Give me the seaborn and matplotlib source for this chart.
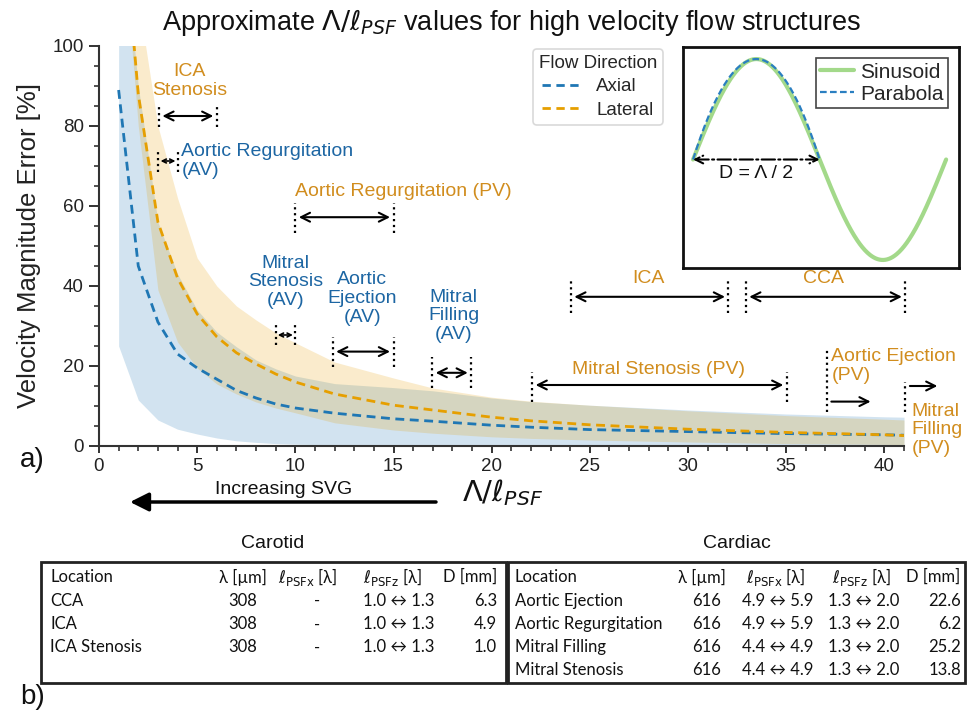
import numpy as np
import pandas as pd
import matplotlib
matplotlib.use("Agg")
import matplotlib.pyplot as plt
import seaborn as sns
from matplotlib.patches import Rectangle
from matplotlib.lines import Line2D

# ---------------- data ----------------
lam_ratio = [1, 2, 3, 4, 5, 6, 7, 8, 9, 10, 12, 15, 17, 20, 22, 25, 30, 35, 40, 41]
axial_mean = [89, 45, 31, 23, 19.5, 16.7, 13.9, 12.0, 10.5, 9.5, 8.2, 6.8, 6.2, 5.2, 4.7, 4.1, 3.6, 3.1, 2.8, 2.7]
axial_low = [25, 11.5, 6.5, 4.2, 3.0, 2.0, 1.3, 0.9, 0.6, 0.45, 0.3, 0.15, 0.1, 0.05, 0.05, 0.05, 0.05, 0.05, 0.05, 0.05]
axial_high = [140, 90, 56, 43, 34, 28.5, 24.8, 21.5, 19.3, 17.5, 15.6, 14.6, 13.8, 12.0, 11.1, 10.2, 9.0, 8.0, 7.3, 7.2]
lateral_mean = [145, 88, 56, 42, 33, 27.3, 23.3, 20.5, 18, 16, 13, 10.2, 9, 7.2, 6.3, 5.3, 4.2, 3.4, 2.8, 2.6]
lateral_low = [140, 80, 39, 26, 19.5, 15.5, 13, 11, 9.5, 8.3, 5.8, 4.0, 3.2, 2.3, 1.9, 1.5, 1.0, 0.6, 0.4, 0.35]
lateral_high = [170, 112, 80, 62, 47, 40, 35, 31.5, 28.3, 25.8, 21, 17, 14.5, 12.2, 11.2, 10.2, 8.8, 7.6, 6.7, 6.5]

# flow structures: name, colour key, (x1, x2) range
struct_names = ["ICA\nStenosis", "Aortic Regurgitation\n(AV)", "Aortic Regurgitation (PV)",
                "Mitral\nStenosis\n(AV)", "Aortic\nEjection\n(AV)", "Mitral\nFilling\n(AV)",
                "ICA", "CCA", "Mitral Stenosis (PV)"]
struct_kind = ["PV", "AV", "PV", "AV", "AV", "AV", "PV", "PV", "PV"]
struct_range = [(3.05, 6.0), (3.03, 4.0), (10.0, 15.0), (9.0, 9.98), (11.9, 15.0),
                (16.97, 18.96), (24.03, 32.06), (32.94, 41.07), (22.06, 35.03)]
open_names = ["Aortic Ejection\n(PV)", "Mitral\nFilling\n(PV)"]
open_start = [37.07, 41.04]

# tables
carotid_locations = ["CCA", "ICA", "ICA Stenosis"]
carotid_lambda = ["308", "308", "308"]
carotid_psfx = ["-", "-", "-"]
carotid_psfz = ["1.0 \u2194 1.3", "1.0 \u2194 1.3", "1.0 \u2194 1.3"]
carotid_D = ["6.3", "4.9", "1.0"]
cardiac_locations = ["Aortic Ejection", "Aortic Regurgitation", "Mitral Filling", "Mitral Stenosis"]
cardiac_lambda = ["616", "616", "616", "616"]
cardiac_psfx = ["4.9 \u2194 5.9", "4.9 \u2194 5.9", "4.4 \u2194 4.9", "4.4 \u2194 4.9"]
cardiac_psfz = ["1.3 \u2194 2.0", "1.3 \u2194 2.0", "1.3 \u2194 2.0", "1.3 \u2194 2.0"]
cardiac_D = ["22.6", "6.2", "25.2", "13.8"]

# ---------------- style ----------------
sns.set_style("ticks")
plt.rcParams["font.family"] = ["Liberation Sans", "DejaVu Sans"]
plt.rcParams["mathtext.fontset"] = "dejavusans"

BLUE = "#1f77b4"
ORANGE = "#E69F00"
TBLUE = "#1d66a3"
TORANGE = "#d18d1e"
W, H = 967, 712

fig = plt.figure(figsize=(W / 100, H / 100), dpi=100)


def fx(px):
    return px / W


def fy(py):
    return 1 - py / H


ax = fig.add_axes([fx(99), fy(446), 805 / W, 400 / H])

n = len(lam_ratio)
df = pd.DataFrame({"x": lam_ratio * 2,
                   "err": axial_mean + lateral_mean,
                   "Direction": ["Axial"] * n + ["Lateral"] * n})
ax.fill_between(lam_ratio, axial_low, axial_high, color=BLUE, alpha=0.2, lw=0, zorder=1)
ax.fill_between(lam_ratio, lateral_low, lateral_high, color=ORANGE, alpha=0.2, lw=0, zorder=1)
sns.lineplot(data=df, x="x", y="err", hue="Direction",
             palette={"Axial": BLUE, "Lateral": ORANGE}, errorbar=None,
             linewidth=2, linestyle=(0, (3.2, 2)), ax=ax, legend=False, zorder=3)

ax.set_xlim(0, 41)
ax.set_ylim(0, 100)
ax.set_xticks(range(0, 41, 5))
ax.set_xticks(range(0, 42, 1), minor=True)
ax.set_yticks(range(0, 101, 20))
ax.set_yticks(range(0, 101, 5), minor=True)
ax.set_xlabel("")
ax.set_ylabel("Velocity Magnitude Error [%]", fontsize=18.5, labelpad=8, color="#222")
sns.despine(ax=ax)
for s in ["left", "bottom"]:
    ax.spines[s].set_linewidth(1.5)
    ax.spines[s].set_color("#333")
ax.tick_params(axis="y", which="major", length=7.5, width=1.4, labelsize=13.5, colors="#333")
ax.tick_params(axis="x", which="major", length=5, width=1.4, labelsize=13.5, colors="#333")
ax.tick_params(which="minor", length=3.5, width=1.2, colors="#333")
for lab in ax.get_xticklabels() + ax.get_yticklabels():
    lab.set_color("#222")

# legend
handles = [Line2D([], [], color=BLUE, ls=(0, (3, 2)), lw=2),
           Line2D([], [], color=ORANGE, ls=(0, (3, 2)), lw=2)]
leg = ax.legend(handles, ["Axial", "Lateral"], title="Flow Direction", loc="upper left",
                bbox_to_anchor=(0.539, 0.9925), borderaxespad=0, fontsize=13.5,
                title_fontsize=13.5, frameon=True, handlelength=2.0, handletextpad=0.9,
                borderpad=0.3, labelspacing=0.35)
leg.get_frame().set_edgecolor("#d0d0d0")
leg.get_frame().set_linewidth(1.2)

# ---------------- annotations ----------------
arrow_y = [82.5, 71.25, 57.2, 27.75, 23.6, 18.3, 37.3, 37.3, 15.25]
dot_span = [(79.8, 84.8), (68.6, 74.0), (53.2, 60.7), (25.25, 30.25), (19.8, 27.3),
            (14.4, 22.3), (33.3, 41.7), (33.3, 41.7), (11.1, 18.6)]
text_pos = [(4.6, 91.2, "center"), (4.2, 71.3, "left"), (10.0, 63.6, "left"),
            (9.5, 41.0, "center"), (13.4, 36.9, "center"), (18.06, 32.5, "center"),
            (27.97, 41.9, "center"), (36.9, 41.9, "center"), (28.5, 19.0, "center")]
small = [False, True, False, True, False, False, False, False, False]

for name, kind, (x1, x2), yv, (d0, d1), (tx, ty, ha), sm in zip(
        struct_names, struct_kind, struct_range, arrow_y, dot_span, text_pos, small):
    for xx in (x1, x2):
        ax.plot([xx, xx], [d0, d1], color="k", ls=":", lw=1.6, zorder=4, clip_on=False)
    if sm:
        props = dict(arrowstyle="<->", color="k", lw=1.2, shrinkA=1.5, shrinkB=1.5,
                     mutation_scale=7)
    else:
        props = dict(arrowstyle="<->", color="k", lw=1.5, shrinkA=2.5, shrinkB=2.5,
                     mutation_scale=16)
    ax.annotate("", xy=(x2, yv), xytext=(x1, yv), arrowprops=props,
                zorder=4, annotation_clip=False)
    ax.text(tx, ty, name, ha=ha, va="center", fontsize=14, linespacing=1.15,
            color=TBLUE if kind == "AV" else TORANGE, zorder=5, clip_on=False)

open_dots = [(8.6, 24.4), (8.6, 16.0)]
open_arrow = [(37.3, 39.3, 11.1), (41.3, 42.7, 15.0)]
open_text = [(37.3, 19.95), (41.4, 4.0)]
for name, xs, (d0, d1), (a1, a2, ay), (tx, ty) in zip(open_names, open_start, open_dots,
                                                      open_arrow, open_text):
    ax.plot([xs, xs], [d0, d1], color="k", ls=":", lw=1.6, zorder=4, clip_on=False)
    ax.annotate("", xy=(a2, ay), xytext=(a1, ay),
                arrowprops=dict(arrowstyle="->", color="k", lw=1.5, shrinkA=0, shrinkB=0,
                                mutation_scale=16),
                zorder=4, annotation_clip=False)
    ax.text(tx, ty, name, ha="left", va="center", fontsize=14, linespacing=1.15,
            color=TORANGE, zorder=5, clip_on=False)

# title, x label, SVG arrow, panel labels
fig.text(fx(512), fy(22), r"Approximate $\Lambda/\ell_{PSF}$ values for high velocity flow structures",
         ha="center", va="center", fontsize=19.5, color="#111")
fig.text(fx(502), fy(493), r"$\Lambda/\ell_{PSF}$", ha="center", va="center", fontsize=21, color="#111")
fig.text(fx(284), fy(489), "Increasing SVG", ha="center", va="center", fontsize=14, color="#111")
ax.annotate("", xy=(fx(130), fy(502)), xytext=(fx(436), fy(502)), xycoords="figure fraction",
            arrowprops=dict(arrowstyle="-|>", color="k", lw=2.5, mutation_scale=28,
                            shrinkA=0, shrinkB=0),
            annotation_clip=False)
fig.text(fx(20), fy(460), "a)", ha="left", va="center", fontsize=20, color="#111")
fig.text(fx(20), fy(697), "b)", ha="left", va="center", fontsize=20, color="#111")

# ---------------- inset ----------------
ins = fig.add_axes([fx(683), fy(268), 276 / W, 221 / H])
ins.set_facecolor("white")
t = np.linspace(0, 2 * np.pi, 400)
tp = np.linspace(0, np.pi, 200)
sns.lineplot(x=t, y=np.sin(t), color="#a3d98a", lw=3, ax=ins, label="Sinusoid", sort=False)
sns.lineplot(x=tp, y=1 - ((tp - np.pi / 2) / (np.pi / 2)) ** 2, color="#2a7fc1", lw=1.6,
             linestyle=(0, (3, 1.5)), ax=ins, label="Parabola", sort=False)
ins.set_xlim(-0.25, 2 * np.pi + 0.32)
ins.set_ylim(-1.08, 1.12)
ins.set_xticks([])
ins.set_yticks([])
ins.set_xlabel("")
ins.set_ylabel("")
for s in ins.spines.values():
    s.set_visible(True)
    s.set_linewidth(2)
    s.set_color("#111")
ins.annotate("", xy=(np.pi, 0), xytext=(0, 0),
             arrowprops=dict(arrowstyle="<->", ls="-.", lw=1.5, color="k",
                             shrinkA=0, shrinkB=0, mutation_scale=14))
ins.text(np.pi / 2, -0.14, "D = \u039b / 2", ha="center", va="center", fontsize=14, color="#111")
il = ins.legend(loc="upper right", frameon=True, fancybox=False, fontsize=15,
                handlelength=1.6, handletextpad=0.3, borderaxespad=0.55, borderpad=0.2,
                labelspacing=0.15, framealpha=1)
il.get_frame().set_edgecolor("#444")
il.get_frame().set_linewidth(1.2)

# ---------------- tables ----------------
TF = ["Lato", "DejaVu Sans"]
TS = 12
fig.text(fx(273), fy(543), "Carotid", ha="center", va="center", fontsize=14, color="#111")
fig.text(fx(737), fy(543), "Cardiac", ha="center", va="center", fontsize=14, color="#111")
fig.patches.append(Rectangle((fx(40.5), fy(683)), (505.5 - 40.5) / W, (683 - 561.5) / H,
                             transform=fig.transFigure, fill=False, lw=2, ec="#222"))
fig.patches.append(Rectangle((fx(507.5), fy(683)), (965 - 507.5) / W, (683 - 561.5) / H,
                             transform=fig.transFigure, fill=False, lw=2, ec="#222"))

hdr_x = r"$\ell_{\mathrm{PSFx}}$ [λ]"
hdr_z = r"$\ell_{\mathrm{PSFz}}$ [λ]"
row_y = [601, 624.3, 647.3, 670.3]


def tt(px, py, s, ha):
    fig.text(fx(px), fy(py), s, ha=ha, va="center", fontsize=TS, family=TF, color="#111")


# carotid header
tt(50, 577, "Location", "left")
tt(243, 577, "λ [µm]", "center")
tt(308, 577, hdr_x, "center")
tt(392, 577, hdr_z, "center")
tt(497, 577, "D [mm]", "right")
for i, (loc, lam, px_, pz, d) in enumerate(zip(carotid_locations, carotid_lambda,
                                               carotid_psfx, carotid_psfz, carotid_D)):
    yy = row_y[i]
    tt(50, yy, loc, "left")
    tt(243, yy, lam, "center")
    tt(317, yy, px_, "center")
    tt(399, yy, pz, "center")
    tt(497, yy, d, "right")

# cardiac header
tt(515, 577, "Location", "left")
tt(702, 577, "λ [µm]", "center")
tt(776, 577, hdr_x, "center")
tt(861, 577, hdr_z, "center")
tt(960, 577, "D [mm]", "right")
for i, (loc, lam, px_, pz, d) in enumerate(zip(cardiac_locations, cardiac_lambda,
                                               cardiac_psfx, cardiac_psfz, cardiac_D)):
    yy = row_y[i]
    tt(515, yy, loc, "left")
    tt(707, yy, lam, "center")
    tt(778, yy, px_, "center")
    tt(864, yy, pz, "center")
    tt(961, yy, d, "right")

fig.savefig("out.png", dpi=100)
